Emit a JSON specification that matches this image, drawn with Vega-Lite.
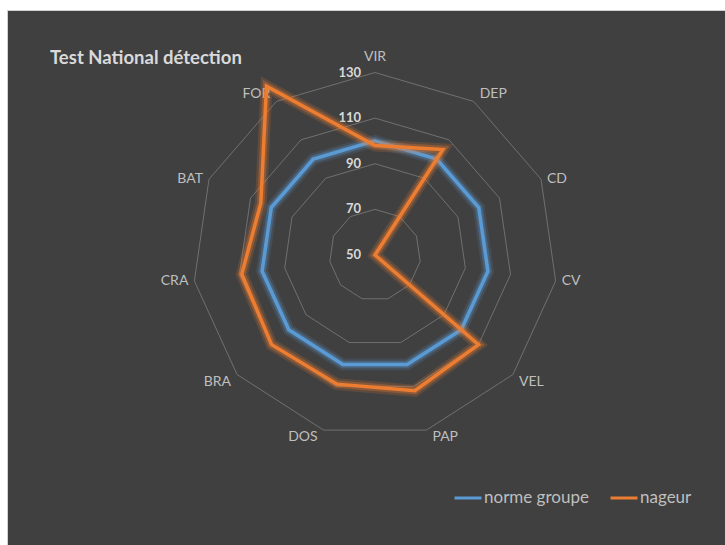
{
  "$schema": "https://vega.github.io/schema/vega-lite/v6.json",
  "width": 725,
  "height": 545,
  "autosize": {"type": "fit", "contains": "padding"},
  "padding": {"left": 7, "top": 10, "right": 0, "bottom": 0},
  "background": "#ffffff",
  "title": {
    "text": "Test National détection",
    "anchor": "start",
    "frame": "group",
    "orient": "top",
    "offset": 0,
    "dx": 43,
    "dy": 76,
    "baseline": "bottom",
    "font": "Lato",
    "fontSize": 18.5,
    "fontWeight": "bold",
    "color": "#d9d9d9"
  },
  "params": [
    {"name": "ordre", "value": ["VIR", "DEP", "CD", "CV", "VEL", "PAP", "DOS", "BRA", "CRA", "BAT", "FOR"]}
  ],
  "datasets": {
    "scores": [
      {"critere": "VIR", "serie": "norme groupe", "valeur": 100},
      {"critere": "DEP", "serie": "norme groupe", "valeur": 100},
      {"critere": "CD", "serie": "norme groupe", "valeur": 100},
      {"critere": "CV", "serie": "norme groupe", "valeur": 100},
      {"critere": "VEL", "serie": "norme groupe", "valeur": 100},
      {"critere": "PAP", "serie": "norme groupe", "valeur": 100},
      {"critere": "DOS", "serie": "norme groupe", "valeur": 100},
      {"critere": "BRA", "serie": "norme groupe", "valeur": 100},
      {"critere": "CRA", "serie": "norme groupe", "valeur": 100},
      {"critere": "BAT", "serie": "norme groupe", "valeur": 100},
      {"critere": "FOR", "serie": "norme groupe", "valeur": 100},
      {"critere": "VIR", "serie": "nageur", "valeur": 98},
      {"critere": "DEP", "serie": "nageur", "valeur": 105},
      {"critere": "CD", "serie": "nageur", "valeur": 50},
      {"critere": "CV", "serie": "nageur", "valeur": 50},
      {"critere": "VEL", "serie": "nageur", "valeur": 110},
      {"critere": "PAP", "serie": "nageur", "valeur": 112},
      {"critere": "DOS", "serie": "nageur", "valeur": 109},
      {"critere": "BRA", "serie": "nageur", "valeur": 110},
      {"critere": "CRA", "serie": "nageur", "valeur": 109},
      {"critere": "BAT", "serie": "nageur", "valeur": 105},
      {"critere": "FOR", "serie": "nageur", "valeur": 138}
    ],
    "graduations": [
      {"niveau": 50},
      {"niveau": 70},
      {"niveau": 90},
      {"niveau": 110},
      {"niveau": 130}
    ]
  },
  "encoding": {
    "x": {
      "field": "x",
      "type": "quantitative",
      "axis": null,
      "scale": {"domain": [-161.32, 153.42], "nice": false, "zero": false}
    },
    "y": {
      "field": "y",
      "type": "quantitative",
      "axis": null,
      "scale": {"domain": [-127.12, 107.4], "nice": false, "zero": false}
    }
  },
  "layer": [
    {
      "data": {"name": "graduations"},
      "transform": [
        {"filter": "datum.niveau > 50"},
        {"calculate": "ordre", "as": "critere"},
        {"flatten": ["critere"]},
        {"calculate": "indexof(ordre, datum.critere)", "as": "i"},
        {"calculate": "datum.niveau - 50", "as": "r"},
        {"calculate": "datum.r * sin(2 * PI * datum.i / 11)", "as": "x"},
        {"calculate": "datum.r * cos(2 * PI * datum.i / 11)", "as": "y"}
      ],
      "mark": {"type": "line", "interpolate": "linear-closed", "stroke": "#808080", "strokeWidth": 0.75},
      "encoding": {
        "detail": {"field": "niveau", "type": "nominal"},
        "order": {"field": "i", "type": "quantitative"}
      }
    },
    {
      "data": {"name": "graduations"},
      "transform": [
        {"filter": "datum.niveau == 130"},
        {"calculate": "ordre", "as": "critere"},
        {"flatten": ["critere"]},
        {"calculate": "indexof(ordre, datum.critere)", "as": "i"},
        {"calculate": "datum.niveau - 50", "as": "r"},
        {"calculate": "datum.r * sin(2 * PI * datum.i / 11)", "as": "x"},
        {"calculate": "datum.r * cos(2 * PI * datum.i / 11)", "as": "y"}
      ],
      "mark": {
        "type": "text",
        "font": "Lato",
        "fontSize": 14,
        "color": "#bfbfbf",
        "align": {"expr": "datum.x > 1 ? 'left' : datum.x < -1 ? 'right' : 'center'"},
        "baseline": {"expr": "datum.y > 48 ? 'bottom' : datum.y < -48 ? 'top' : 'middle'"},
        "dx": {"expr": "datum.x > 1 ? 6 : datum.x < -1 ? -6 : 0"},
        "dy": {"expr": "datum.y > 76 ? -9 : 0"}
      },
      "encoding": {
        "text": {"field": "critere", "type": "nominal"}
      }
    },
    {
      "data": {"name": "graduations"},
      "transform": [
        {"calculate": "0", "as": "x"},
        {"calculate": "datum.niveau - 50", "as": "y"}
      ],
      "mark": {
        "type": "text",
        "font": "Lato",
        "fontSize": 13,
        "fontWeight": "bold",
        "color": "#d9d9d9",
        "align": "right",
        "baseline": "middle",
        "dx": -14
      },
      "encoding": {
        "text": {"field": "niveau", "type": "quantitative"}
      }
    },
    {
      "data": {"name": "scores"},
      "transform": [
        {"filter": "datum.serie == 'norme groupe'"},
        {"calculate": "indexof(ordre, datum.critere)", "as": "i"},
        {"calculate": "datum.valeur - 50", "as": "r"},
        {"calculate": "datum.r * sin(2 * PI * datum.i / 11)", "as": "x"},
        {"calculate": "datum.r * cos(2 * PI * datum.i / 11)", "as": "y"}
      ],
      "layer": [
        {
          "mark": {"type": "line", "interpolate": "linear-closed", "stroke": "#5B9BD5", "strokeWidth": 12, "opacity": 0.15},
          "encoding": {"order": {"field": "i", "type": "quantitative"}}
        },
        {
          "mark": {"type": "line", "interpolate": "linear-closed", "stroke": "#5B9BD5", "strokeWidth": 7.5, "opacity": 0.3},
          "encoding": {"order": {"field": "i", "type": "quantitative"}}
        },
        {
          "mark": {"type": "line", "interpolate": "linear-closed", "strokeWidth": 3.5},
          "encoding": {
            "color": {
              "field": "serie",
              "type": "nominal",
              "scale": {"domain": ["norme groupe", "nageur"], "range": ["#5B9BD5", "#ED7D31"]},
              "legend": {"orient": "none", "legendX": 446, "legendY": 473, "direction": "horizontal", "title": null}
            },
            "order": {"field": "i", "type": "quantitative"}
          }
        }
      ]
    },
    {
      "data": {"name": "scores"},
      "transform": [
        {"filter": "datum.serie == 'nageur'"},
        {"calculate": "indexof(ordre, datum.critere)", "as": "i"},
        {"calculate": "datum.valeur - 50", "as": "r"},
        {"calculate": "datum.r * sin(2 * PI * datum.i / 11)", "as": "x"},
        {"calculate": "datum.r * cos(2 * PI * datum.i / 11)", "as": "y"}
      ],
      "layer": [
        {
          "mark": {"type": "line", "interpolate": "linear-closed", "stroke": "#ED7D31", "strokeWidth": 12, "opacity": 0.18},
          "encoding": {"order": {"field": "i", "type": "quantitative"}}
        },
        {
          "mark": {"type": "line", "interpolate": "linear-closed", "stroke": "#ED7D31", "strokeWidth": 7.5, "opacity": 0.32},
          "encoding": {"order": {"field": "i", "type": "quantitative"}}
        },
        {
          "mark": {"type": "line", "interpolate": "linear-closed", "strokeWidth": 3.5},
          "encoding": {
            "color": {
              "field": "serie",
              "type": "nominal",
              "scale": {"domain": ["norme groupe", "nageur"], "range": ["#5B9BD5", "#ED7D31"]},
              "legend": {"orient": "none", "legendX": 446, "legendY": 473, "direction": "horizontal", "title": null}
            },
            "order": {"field": "i", "type": "quantitative"}
          }
        }
      ]
    }
  ],
  "config": {
    "view": {"fill": "#404040", "stroke": "#d0d0d0", "strokeWidth": 1},
    "legend": {
      "symbolType": "stroke",
      "symbolSize": 729,
      "symbolStrokeWidth": 3,
      "symbolOpacity": 1,
      "labelFont": "Lato",
      "labelFontSize": 17,
      "labelColor": "#bfbfbf",
      "labelOffset": 1,
      "columnPadding": 15
    }
  }
}
